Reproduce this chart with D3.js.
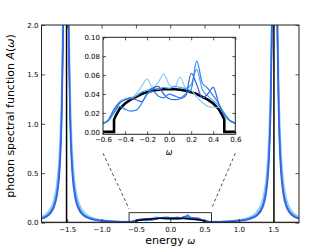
<!DOCTYPE html>
<html><head><meta charset="utf-8">
<script src="https://cdn.jsdelivr.net/npm/d3@7"></script>
<style>
html,body{margin:0;padding:0;background:#fff;}
svg{display:block;font-family:"DejaVu Sans",sans-serif;}
</style></head>
<body>
<script>
// ---------- data ----------
const mainXTicks = [-1.5,-1.0,-0.5,0.0,0.5,1.0,1.5];
const mainYTicks = [0.0,0.5,1.0,1.5,2.0];
const insetXTicks = [-0.6,-0.4,-0.2,0.0,0.2,0.4,0.6];
const insetYTicks = [0.00,0.02,0.04,0.06,0.08,0.10];

// outer (peak) regions of the main plot
const outerLX = [-1.875,-1.8,-1.74,-1.69,-1.65,-1.62,-1.6,-1.58,-1.56,-1.54,-1.52,-1.5,-1.48,-1.46,-1.44,-1.42,-1.39,-1.36,-1.32,-1.27,-1.2,-1.1,-1.0,-0.9,-0.8,-0.7,-0.65];
const outerRX = [0.65,0.7,0.8,0.9,1.0,1.1,1.2,1.27,1.32,1.36,1.39,1.42,1.44,1.46,1.48,1.5,1.52,1.54,1.56,1.58,1.6,1.62,1.65,1.69,1.74,1.8,1.875];
const lightL = [0.059,0.094,0.15,0.246,0.405,0.647,0.94,1.44,2.34,3.75,4.69,3.75,2.34,1.44,0.94,0.647,0.405,0.276,0.18,0.117,0.072,0.042,0.028,0.019,0.014,0.011,0.0099];
const lightR = [0.0099,0.011,0.014,0.019,0.028,0.042,0.072,0.117,0.18,0.276,0.405,0.647,0.94,1.44,2.34,3.75,4.69,3.75,2.34,1.44,0.94,0.647,0.405,0.246,0.15,0.094,0.059];
const midL = [0.044,0.070,0.113,0.186,0.309,0.5,0.737,1.17,2.0,3.5,4.67,3.5,2.0,1.17,0.737,0.5,0.309,0.209,0.136,0.088,0.054,0.0315,0.0206,0.0145,0.0108,0.0083,0.0074];
const midR = [0.0074,0.0083,0.0108,0.0145,0.0206,0.0315,0.054,0.088,0.136,0.209,0.309,0.5,0.737,1.17,2.0,3.5,4.67,3.5,2.0,1.17,0.737,0.5,0.309,0.186,0.113,0.070,0.044];
const royalL = [0.038,0.060,0.097,0.16,0.268,0.436,0.65,1.04,1.85,3.43,4.8,3.43,1.85,1.04,0.65,0.436,0.268,0.18,0.117,0.076,0.046,0.027,0.0177,0.0125,0.0092,0.0071,0.0063];
const royalR = [0.0063,0.0071,0.0092,0.0125,0.0177,0.027,0.046,0.076,0.117,0.18,0.268,0.436,0.65,1.04,1.85,3.43,4.8,3.43,1.85,1.04,0.65,0.436,0.268,0.16,0.097,0.060,0.038];

// central band (inset)
const insetX = [-0.6,-0.55,-0.5,-0.45,-0.4,-0.35,-0.3,-0.25,-0.2,-0.15,-0.1,-0.05,0,0.05,0.1,0.15,0.2,0.25,0.3,0.35,0.4,0.45,0.5,0.55,0.6];
const sLight  = [0.0095,0.012,0.022,0.032,0.035,0.035,0.040,0.048,0.056,0.047,0.052,0.061,0.050,0.047,0.058,0.046,0.044,0.037,0.031,0.027,0.026,0.026,0.018,0.012,0.0095];
const sSky    = [0.009,0.012,0.021,0.030,0.034,0.036,0.038,0.042,0.044,0.046,0.045,0.047,0.046,0.048,0.047,0.046,0.050,0.066,0.045,0.038,0.033,0.028,0.020,0.012,0.009];
const sDodger = [0.009,0.012,0.020,0.027,0.024,0.022,0.023,0.030,0.040,0.043,0.038,0.036,0.040,0.038,0.036,0.040,0.045,0.075,0.052,0.046,0.038,0.030,0.018,0.012,0.009];
const sRoyal  = [0.009,0.013,0.024,0.031,0.034,0.036,0.034,0.032,0.040,0.046,0.048,0.040,0.035,0.034,0.035,0.038,0.062,0.050,0.036,0.040,0.047,0.030,0.018,0.012,0.009];

const blackX = [-0.6,-0.5,-0.5,-0.48,-0.45,-0.4,-0.35,-0.3,-0.25,-0.2,-0.15,-0.1,-0.05,0,0.05,0.1,0.15,0.2,0.25,0.3,0.35,0.4,0.45,0.48,0.5,0.5,0.6];
const blackY = [0,0,0.013,0.018,0.024,0.030,0.034,0.037,0.040,0.042,0.0435,0.0445,0.045,0.045,0.045,0.0445,0.0435,0.042,0.040,0.037,0.034,0.030,0.024,0.018,0.013,0,0];
const deltaX = [-1.51,1.51];

const colors = {light:"#8ccdf8", sky:"#4aa6f2", dodger:"#2a86ee", royal:"#3f5fdc", black:"#000"};

// ---------- layout ----------
const W=332,H=249;
const svg = d3.select("body").append("svg").attr("width",W).attr("height",H);
const M = {l:41.5,r:299,t:25,b:222.6};
const xM = d3.scaleLinear([-1.875,1.875],[M.l,M.r]);
const yM = d3.scaleLinear([0,2],[M.b,M.t]);
const I = {l:103,r:235.3,t:37.3,b:134.3};
const xI = d3.scaleLinear([-0.6,0.6],[I.l,I.r]);
const yI = d3.scaleLinear([-0.0026,0.1],[I.b,I.t]);

const defs = svg.append("defs");
defs.append("clipPath").attr("id","cm").append("rect").attr("x",M.l).attr("y",M.t).attr("width",M.r-M.l).attr("height",M.b-M.t);
defs.append("clipPath").attr("id","ci").append("rect").attr("x",I.l).attr("y",I.t).attr("width",I.r-I.l).attr("height",I.b-I.t);

const fmt1 = d=>d3.format(".1f")(d).replace("-","\u2212");
const fmt2 = d=>d3.format(".2f")(d).replace("-","\u2212");

function zipXY(xs,ys){return xs.map((x,i)=>[x,ys[i]]);}

// ---------- main plot ----------
const gm = svg.append("g");
const lineM = d3.line().x(d=>xM(d[0])).y(d=>yM(d[1])).curve(d3.curveMonotoneX);
const mainSeries = [
  {c:colors.light, d:zipXY(outerLX,lightL).concat(zipXY(insetX,sLight),zipXY(outerRX,lightR))},
  {c:colors.sky, d:zipXY(outerLX,midL).concat(zipXY(insetX,sSky),zipXY(outerRX,midR))},
  {c:colors.dodger, d:zipXY(outerLX,midL).concat(zipXY(insetX,sDodger),zipXY(outerRX,midR))},
  {c:colors.royal, d:zipXY(outerLX,royalL).concat(zipXY(insetX,sRoyal),zipXY(outerRX,royalR))}
];
const pm = gm.append("g").attr("clip-path","url(#cm)");
pm.selectAll("path.s").data(mainSeries).join("path").attr("class","s")
  .attr("d",s=>lineM(s.d)).attr("fill","none").attr("stroke",s=>s.c).attr("stroke-width",1.5);
// black: zero line, delta peaks and semicircle band
const blackMain = [[-1.875,0],[deltaX[0],0],[deltaX[0],3],[deltaX[0],0]]
  .concat(zipXY(blackX,blackY),[[deltaX[1],0],[deltaX[1],3],[deltaX[1],0],[1.875,0]]);
pm.append("path").attr("d",d3.line().x(d=>xM(d[0])).y(d=>yM(d[1]))(blackMain))
  .attr("fill","none").attr("stroke","#000").attr("stroke-width",1.5);

// zoom rectangle
gm.append("rect").attr("x",xM(-0.6)).attr("y",yM(0.1)).attr("width",xM(0.6)-xM(-0.6)).attr("height",yM(0)-yM(0.1))
  .attr("fill","none").attr("stroke","#000").attr("stroke-width",0.8);
// connector lines
[[I.l,-0.6],[I.r,0.6]].forEach(([px,dx])=>{
  gm.append("line").attr("x1",px).attr("y1",I.b+19).attr("x2",xM(dx)).attr("y2",yM(0.1)-4)
    .attr("stroke","#000").attr("stroke-width",0.7).attr("stroke-dasharray","3,2.5");
});

// main axes
const tk = 3.5;
gm.append("g").attr("transform",`translate(0,${M.b})`).call(d3.axisBottom(xM).tickValues(mainXTicks).tickSize(-tk).tickPadding(4).tickFormat(fmt1));
gm.append("g").attr("transform",`translate(0,${M.t})`).call(d3.axisTop(xM).tickValues(mainXTicks).tickSize(-tk).tickFormat(""));
gm.append("g").attr("transform",`translate(${M.l},0)`).call(d3.axisLeft(yM).tickValues(mainYTicks).tickSize(-tk).tickPadding(3).tickFormat(fmt1));
gm.append("g").attr("transform",`translate(${M.r},0)`).call(d3.axisRight(yM).tickValues(mainYTicks).tickSize(-tk).tickFormat(""));
gm.selectAll(".domain").remove();
gm.append("rect").attr("x",M.l).attr("y",M.t).attr("width",M.r-M.l).attr("height",M.b-M.t).attr("fill","none").attr("stroke","#222").attr("stroke-width",1);

// ---------- inset ----------
const gi = svg.append("g");
gi.append("rect").attr("x",I.l).attr("y",I.t).attr("width",I.r-I.l).attr("height",I.b-I.t).attr("fill","#fff");
const pi = gi.append("g").attr("clip-path","url(#ci)");
const lineI = d3.line().x(d=>xI(d[0])).y(d=>yI(d[1]));
pi.append("path").attr("d",lineI(zipXY(blackX,blackY))).attr("fill","none").attr("stroke","#000").attr("stroke-width",2.6);
const insetSeries = [
  {c:colors.light,y:sLight},{c:colors.sky,y:sSky},{c:colors.royal,y:sRoyal},{c:colors.dodger,y:sDodger}
];
const lineIc = d3.line().x(d=>xI(d[0])).y(d=>yI(d[1])).curve(d3.curveMonotoneX);
pi.selectAll("path.s").data(insetSeries).join("path").attr("class","s")
  .attr("d",s=>lineIc(zipXY(insetX,s.y))).attr("fill","none").attr("stroke",s=>s.c).attr("stroke-width",1.2);

gi.append("g").attr("transform",`translate(0,${I.b})`).call(d3.axisBottom(xI).tickValues(insetXTicks).tickSize(-3).tickPadding(3).tickFormat(fmt1));
gi.append("g").attr("transform",`translate(0,${I.t})`).call(d3.axisTop(xI).tickValues(insetXTicks).tickSize(-3).tickFormat(""));
gi.append("g").attr("transform",`translate(${I.l},0)`).call(d3.axisLeft(yI).tickValues(insetYTicks).tickSize(-3).tickPadding(3).tickFormat(fmt2));
gi.append("g").attr("transform",`translate(${I.r},0)`).call(d3.axisRight(yI).tickValues(insetYTicks).tickSize(-3).tickFormat(""));
gi.selectAll(".domain").remove();
gi.append("rect").attr("x",I.l).attr("y",I.t).attr("width",I.r-I.l).attr("height",I.b-I.t).attr("fill","none").attr("stroke","#222").attr("stroke-width",1);

svg.selectAll(".tick line").attr("stroke","#222").attr("stroke-width",0.8);
svg.selectAll(".tick text").attr("fill","#000").attr("font-family","DejaVu Sans").attr("font-size",7);

// labels
gi.append("text").attr("x",(I.l+I.r)/2).attr("y",I.b+21).attr("text-anchor","middle")
  .attr("font-size",8).attr("font-style","italic").text("\u03c9");
const xl = svg.append("text").attr("x",(M.l+M.r)/2).attr("y",244).attr("text-anchor","middle").attr("font-size",11);
xl.append("tspan").text("energy ");
xl.append("tspan").attr("font-style","italic").attr("font-size",9.5).text("\u03c9");
const yl = svg.append("text").attr("transform",`translate(14,116) rotate(-90)`).attr("text-anchor","middle").attr("font-size",11);
yl.append("tspan").text("photon spectral function ");
yl.append("tspan").attr("font-style","italic").text("A");
yl.append("tspan").text("(");
yl.append("tspan").attr("font-style","italic").text("\u03c9");
yl.append("tspan").text(")");
</script>
</body></html>
